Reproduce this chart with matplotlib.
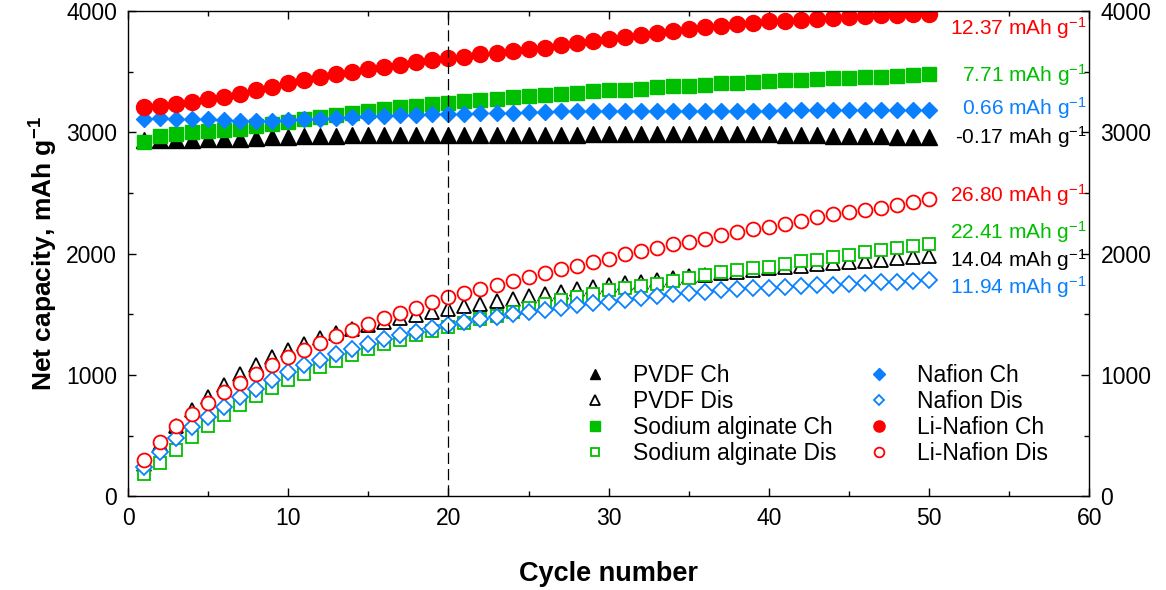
import matplotlib.pyplot as plt
import numpy as np
from matplotlib.ticker import MultipleLocator

plt.rcParams['font.family'] = ['Liberation Sans', 'DejaVu Sans']
plt.rcParams['mathtext.fontset'] = 'custom'
plt.rcParams['mathtext.rm'] = 'Liberation Sans'
plt.rcParams['mathtext.default'] = 'regular'

cycles = np.arange(1, 51)

pvdf_ch = [2935, 2938, 2940, 2938, 2942, 2945, 2950, 2955, 2960, 2964,
           2968, 2970, 2972, 2975, 2976, 2977, 2978, 2978, 2979, 2980,
           2980, 2981, 2981, 2982, 2982, 2983, 2983, 2983, 2984, 2984,
           2984, 2985, 2985, 2985, 2985, 2985, 2985, 2985, 2984, 2984,
           2983, 2982, 2976, 2974, 2972, 2970, 2968, 2966, 2965, 2963]
pvdf_dis = [265, 430, 582, 708, 814, 920, 1004, 1080, 1146, 1204,
            1258, 1302, 1342, 1378, 1410, 1440, 1470, 1495, 1520, 1543,
            1565, 1588, 1610, 1630, 1650, 1668, 1688, 1706, 1723, 1740,
            1755, 1770, 1785, 1799, 1813, 1827, 1840, 1853, 1866, 1878,
            1890, 1901, 1912, 1923, 1933, 1943, 1952, 1961, 1969, 1977]
sa_ch = [2922, 2969, 2986, 3002, 3010, 3019, 3032, 3052, 3068, 3087,
         3107, 3124, 3142, 3161, 3178, 3192, 3206, 3219, 3231, 3239,
         3258, 3266, 3274, 3290, 3299, 3307, 3321, 3326, 3340, 3349,
         3354, 3362, 3371, 3381, 3384, 3395, 3404, 3412, 3417, 3423,
         3431, 3436, 3442, 3447, 3453, 3459, 3461, 3464, 3470, 3480]
sa_dis = [187, 275, 379, 489, 580, 668, 751, 825, 890, 957,
          1011, 1066, 1118, 1165, 1210, 1252, 1290, 1328, 1363, 1395,
          1428, 1458, 1490, 1522, 1555, 1589, 1616, 1639, 1666, 1697,
          1713, 1732, 1754, 1778, 1801, 1823, 1846, 1864, 1880, 1894,
          1913, 1940, 1952, 1974, 1988, 2015, 2029, 2043, 2062, 2084]
naf_ch = [3115, 3120, 3115, 3109, 3107, 3101, 3096, 3096, 3096, 3101,
          3109, 3115, 3120, 3128, 3134, 3136, 3142, 3145, 3150, 3150,
          3156, 3161, 3162, 3164, 3170, 3172, 3174, 3175, 3176, 3177,
          3178, 3178, 3179, 3179, 3180, 3180, 3180, 3181, 3181, 3181,
          3182, 3182, 3182, 3182, 3182, 3182, 3182, 3182, 3182, 3182]
naf_dis = [242, 366, 477, 572, 655, 737, 814, 888, 957, 1022,
           1078, 1125, 1175, 1215, 1257, 1295, 1328, 1357, 1384, 1408,
           1434, 1458, 1480, 1505, 1522, 1538, 1556, 1574, 1590, 1605,
           1622, 1637, 1651, 1664, 1676, 1687, 1697, 1706, 1714, 1721,
           1728, 1734, 1740, 1745, 1751, 1758, 1764, 1770, 1776, 1782]
lin_ch = [3206, 3219, 3233, 3252, 3274, 3293, 3321, 3349, 3373, 3404,
          3431, 3456, 3480, 3500, 3522, 3541, 3560, 3579, 3596, 3610,
          3625, 3643, 3659, 3673, 3687, 3700, 3720, 3740, 3756, 3768,
          3788, 3806, 3822, 3838, 3855, 3868, 3882, 3896, 3906, 3918,
          3922, 3928, 3936, 3946, 3953, 3961, 3965, 3972, 3976, 3981]
lin_dis = [297, 445, 575, 679, 772, 859, 937, 1011, 1083, 1146,
           1207, 1264, 1318, 1370, 1420, 1470, 1512, 1556, 1598, 1639,
           1672, 1706, 1740, 1776, 1808, 1840, 1870, 1900, 1930, 1960,
           1996, 2023, 2051, 2078, 2100, 2125, 2153, 2180, 2200, 2222,
           2249, 2271, 2300, 2326, 2345, 2359, 2381, 2400, 2427, 2455]

rate_labels = ['12.37', '7.71', '0.66', '-0.17', '26.80', '22.41', '14.04', '11.94']
rate_y = [3860, 3472, 3200, 2963, 2482, 2180, 1950, 1728]

red = '#FF0000'
green = '#00BF00'
blue = '#0A80FF'
rate_colors = [red, green, blue, 'black', red, green, 'black', blue]

fig = plt.figure(figsize=(11.66, 5.9), dpi=100)
ax = fig.add_axes([0.1098, 0.159, 0.8244, 0.822])

ax.plot(cycles, pvdf_ch, '^', color='black', ms=11, label='PVDF Ch')
ax.plot(cycles, pvdf_dis, '^', mec='black', mfc='white', mew=1.3, ms=10, label='PVDF Dis')
ax.plot(cycles, sa_ch, 's', color=green, ms=10, label='Sodium alginate Ch')
ax.plot(cycles, sa_dis, 's', mec=green, mfc='white', mew=1.3, ms=9, label='Sodium alginate Dis')
ax.plot(cycles, naf_ch, 'D', color=blue, ms=8.5, label='Nafion Ch')
ax.plot(cycles, naf_dis, 'D', mec=blue, mfc='white', mew=1.3, ms=7.7, label='Nafion Dis')
ax.plot(cycles, lin_ch, 'o', color=red, ms=11.5, label='Li-Nafion Ch')
ax.plot(cycles, lin_dis, 'o', mec=red, mfc='white', mew=1.3, ms=10, label='Li-Nafion Dis')

ax.axvline(20, color='black', ls=(0, (9, 4)), lw=0.9, zorder=5)

for lab, yy, c in zip(rate_labels, rate_y, rate_colors):
    ax.text(59.85, yy, lab + ' mAh g$^{-1}$', color=c, fontsize=15,
            ha='right', va='center')

ax.set_xlim(0, 60)
ax.set_ylim(0, 4000)
ax.xaxis.set_major_locator(MultipleLocator(10))
ax.xaxis.set_minor_locator(MultipleLocator(5))
ax.yaxis.set_major_locator(MultipleLocator(1000))
ax.yaxis.set_minor_locator(MultipleLocator(500))
ax.tick_params(which='both', direction='in', top=True, right=True,
               labelright=True, labelsize=16.5, width=1, pad=8)
ax.tick_params(which='major', length=6)
ax.tick_params(which='minor', length=3.5)
for s in ax.spines.values():
    s.set_linewidth(1)

ax.set_xlabel('Cycle number', fontsize=19.5, fontweight='bold', labelpad=22)
ax.set_ylabel('Net capacity, mAh g$^{-1}$', fontsize=19, fontweight='bold', labelpad=4)

ax.legend(loc='upper left', bbox_to_anchor=(0.467, 0.272), ncol=2, frameon=False,
          fontsize=16.5, markerscale=0.7, borderpad=0, borderaxespad=0,
          handlelength=1.6, labelspacing=0.13, handletextpad=0.85, columnspacing=1.05)

fig.savefig('out.png', dpi=100)
